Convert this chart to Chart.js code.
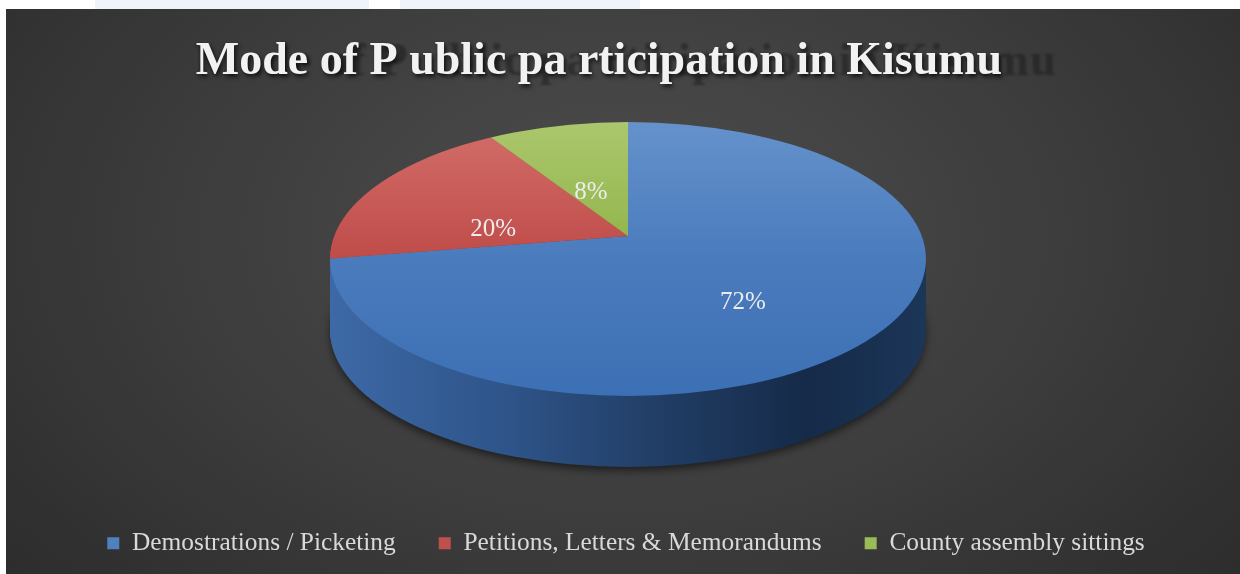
<!DOCTYPE html>
<html><head><meta charset="utf-8">
<script src="https://cdn.jsdelivr.net/npm/chart.js@4.4.1/dist/chart.umd.min.js"></script>
<style>
html,body{margin:0;padding:0;background:#fff;width:1240px;height:574px;overflow:hidden;position:relative}
#box{position:absolute;left:6px;top:9px;width:1234px;height:565px;
 background:radial-gradient(ellipse 70% 100% at 50% 40%, #4e4e4e 0%, #3b3b3b 55%, #2a2a2a 100%);}
.patch{position:absolute;top:0;height:9px;background:#eef4fa}
canvas{display:block}
</style></head>
<body>
<div class="patch" style="left:95px;width:274px"></div>
<div class="patch" style="left:400px;width:240px"></div>
<div id="box"><canvas id="c" width="1234" height="565"></canvas></div>
<script>
// ---- data ----
const categories = ['Demostrations / Picketing', 'Petitions, Letters & Memorandums', 'County assembly sittings'];
const shares = [72, 20, 8];
const valueLabels = ['72%', '20%', '8%'];
const titleText = 'Mode of P ublic pa rticipation in Kisumu';
const seriesColors = ['#4f81bd', '#c0504d', '#9bbb59'];

// ---- styling ----
const topStops = [
  [[0, '#6592cb'], [0.5, '#4a7bbd'], [1, '#3c70b4']],
  [[0, '#d36e6a'], [0.5, '#bf4c49'], [1, '#b03f3c']],
  [[0, '#abc76d'], [0.45, '#92b54c'], [1, '#88ab42']]
];
const sideStops = [
  [[0, '#3d69a6'], [0.3, '#2e5489'], [0.5, '#24426c'], [0.8, '#152a48'], [1, '#1c3658']],
  [[0, '#9a3b38'], [1, '#5e1f1d']],
  [[0, '#7a9a3c'], [1, '#4f6a25']]
];
// ellipse of the top face (canvas coords), apex of slices (perspective), depth
const EX = 622, EY = 250, RX = 298, RY = 137, DEPTH = 71;
const VY = 227, RYV = 118, K = 1.6;

function grad(ctx, x0, y0, x1, y1, stops) {
  const g = ctx.createLinearGradient(x0, y0, x1, y1);
  stops.forEach(s => g.addColorStop(s[0], s[1]));
  return g;
}

const pie3d = {
  id: 'pie3d',
  beforeDatasetsDraw(chart) {
    const ctx = chart.ctx;
    const meta = chart.getDatasetMeta(0);
    const a0 = meta.data[0];
    const R = a0.outerRadius, cx = a0.x, cy = a0.y;
    const sx = K * RX / R, sy = K * RYV / R;
    const toCircleY = (ys, d) => cy + (ys - VY - d) / sy;
    const toCircleX = (xs) => cx + (xs - EX) / sx;
    const layer = (d, fills) => {
      ctx.save();
      ctx.beginPath();
      ctx.ellipse(EX, EY + d, RX, RY, 0, 0, Math.PI * 2);
      ctx.clip();
      ctx.translate(EX, VY + d);
      ctx.scale(sx, sy);
      ctx.translate(-cx, -cy);
      meta.data.forEach((arc, i) => {
        const tmp = Object.create(arc);
        tmp.options = Object.assign({}, arc.options, {backgroundColor: fills[i], borderWidth: 0});
        arc.draw.call(tmp, ctx);
      });
      ctx.restore();
    };
    // soft shadow under the pie
    ctx.save();
    ctx.shadowColor = 'rgba(0,0,0,0.6)'; ctx.shadowBlur = 10; ctx.shadowOffsetY = 4;
    ctx.fillStyle = '#1a2e4c';
    ctx.beginPath();
    ctx.ellipse(EX, EY + DEPTH, RX - 1, RY - 1, 0, 0, Math.PI * 2);
    ctx.fill();
    ctx.restore();
    // side walls
    const sg = sideStops.map(st => grad(ctx, toCircleX(EX - RX), 0, toCircleX(EX + RX), 0, st));
    for (let d = DEPTH; d >= 1; d--) layer(d, sg);
    // top face
    const tg = topStops.map(st => grad(ctx, 0, toCircleY(EY - RY, 0), 0, toCircleY(EY + RY, 0), st));
    layer(0, tg);
    return false;
  },
  afterDraw(chart) {
    const ctx = chart.ctx;
    const meta = chart.getDatasetMeta(0);
    ctx.save();
    ctx.font = '25px "Liberation Serif"';
    ctx.fillStyle = '#ececec';
    ctx.textAlign = 'center';
    ctx.textBaseline = 'middle';
    meta.data.forEach((arc, i) => {
      const mid = (arc.startAngle + arc.endAngle) / 2;
      ctx.fillText(valueLabels[i], EX + 0.5 * RX * Math.cos(mid), EY + 0.5 * RY * Math.sin(mid));
    });
    ctx.restore();

    ctx.save();
    ctx.font = 'bold 46px "Liberation Serif"';
    ctx.textAlign = 'center';
    ctx.textBaseline = 'alphabetic';
    ctx.letterSpacing = '1.4px';
    ctx.filter = 'blur(1.2px)';
    ctx.fillStyle = 'rgba(22,22,22,0.45)';
    ctx.fillText(titleText, 620, 66);
    ctx.filter = 'none';
    ctx.letterSpacing = '0px';
    ctx.shadowColor = 'rgba(0,0,0,0.65)';
    ctx.shadowBlur = 4; ctx.shadowOffsetX = 2; ctx.shadowOffsetY = 3;
    ctx.fillStyle = '#f2f2f2';
    ctx.fillText(titleText, 593, 65);
    ctx.restore();
  }
};

new Chart(document.getElementById('c'), {
  type: 'pie',
  data: {
    labels: categories,
    datasets: [{
      data: shares,
      borderWidth: 0,
      backgroundColor: seriesColors
    }]
  },
  options: {
    responsive: false,
    animation: false,
    events: [],
    layout: { padding: { top: 20, bottom: 8, left: 6, right: 0 } },
    plugins: {
      title: { display: false },
      tooltip: { enabled: false },
      legend: {
        position: 'bottom',
        labels: {
          font: { family: 'Liberation Serif', size: 25.4 },
          color: '#d9d9d9',
          boxWidth: 12, boxHeight: 12,
          padding: 43,
          generateLabels: (chart) => categories.map((t, i) => ({
            text: t, fillStyle: seriesColors[i], strokeStyle: seriesColors[i], lineWidth: 0,
            fontColor: '#d9d9d9', hidden: false, index: i
          }))
        }
      }
    }
  },
  plugins: [pie3d]
});
</script>
</body></html>
